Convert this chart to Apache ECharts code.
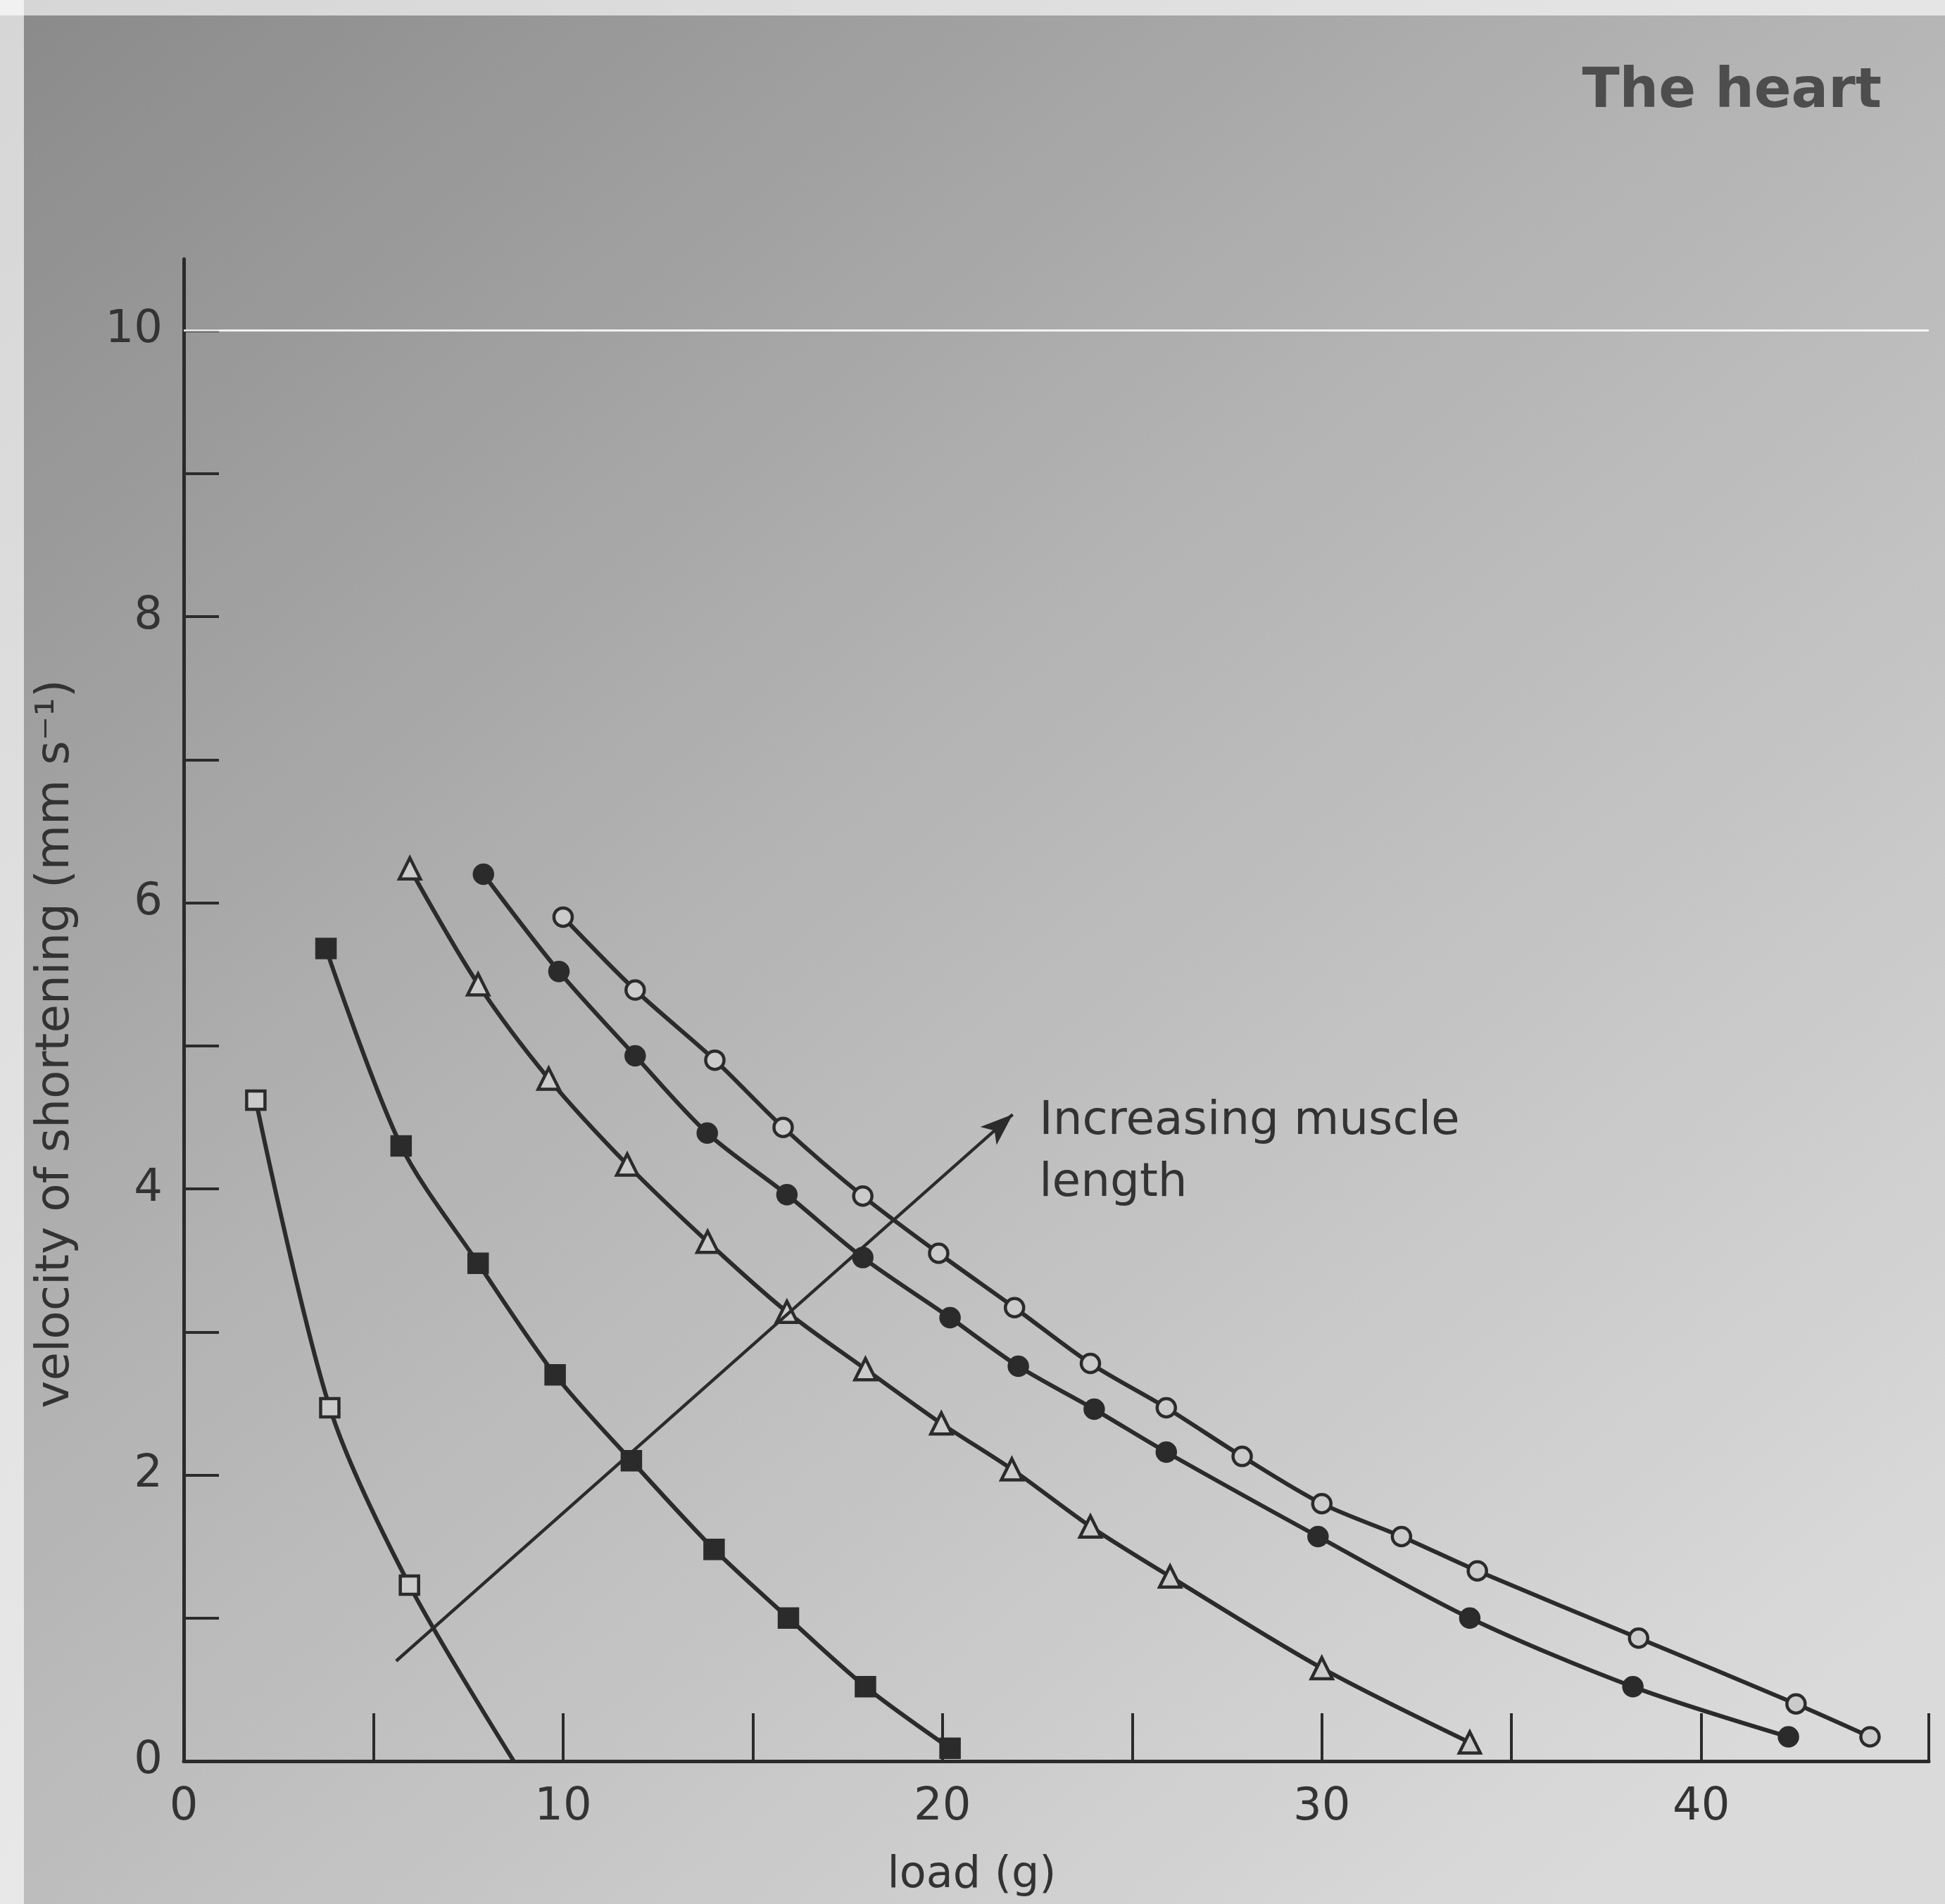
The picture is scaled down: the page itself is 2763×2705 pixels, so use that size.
<!DOCTYPE html>
<html>
<head>
<meta charset="utf-8">
<script src="https://cdn.jsdelivr.net/npm/echarts@6/dist/echarts.min.js"></script>
<style>
html,body{margin:0;padding:0;}
#chart{width:2763px;height:2705px;}
</style>
</head>
<body>
<div id="chart"></div>
<script>
// ---- data (load in g, velocity of shortening in mm/s) ----
const xLabelValues = [0, 10, 20, 30, 40];
const xTickValues = [5, 10, 15, 20, 25, 30, 35, 40, 46];
const yLabelValues = [0, 2, 4, 6, 8, 10];
const yTickValues = [1, 2, 3, 4, 5, 6, 7, 8, 9, 10];

const s1Load = [1.9, 3.85, 5.95, 8.7];
const s1Vel  = [4.62, 2.47, 1.23, 0.0];

const s2Load = [3.75, 5.73, 7.76, 9.79, 11.8, 13.98, 15.94, 17.97, 20.2];
const s2Vel  = [5.68, 4.30, 3.48, 2.70, 2.10, 1.48, 1.00, 0.52, 0.09];

const s3Load = [5.96, 7.76, 9.62, 11.69, 13.81, 15.9, 17.97, 19.97, 21.83, 23.9, 26.0, 30.0, 33.9];
const s3Vel  = [6.24, 5.43, 4.77, 4.17, 3.63, 3.14, 2.74, 2.36, 2.04, 1.64, 1.29, 0.65, 0.13];

const s4Load = [7.9, 9.89, 11.9, 13.8, 15.9, 17.9, 20.2, 22.0, 24.0, 25.9, 29.9, 33.9, 38.2, 42.3];
const s4Vel  = [6.20, 5.52, 4.93, 4.39, 3.96, 3.52, 3.10, 2.76, 2.46, 2.16, 1.57, 1.00, 0.52, 0.17];

const s5Load = [10.0, 11.9, 14.0, 15.8, 17.9, 19.9, 21.9, 23.9, 25.9, 27.9, 30.0, 32.1, 34.1, 38.35, 42.5, 44.45];
const s5Vel  = [5.90, 5.39, 4.90, 4.43, 3.95, 3.55, 3.17, 2.78, 2.47, 2.13, 1.80, 1.57, 1.33, 0.86, 0.40, 0.17];

const arrowFrom = [5.6, 0.7];
const arrowTo   = [21.85, 4.52];
const annotationText = 'Increasing muscle\nlength';
const annotationAt = [22.55, 4.25];

const ink = '#2b2b2b';
const hollow = '#cbcbcb';

function pairs(xs, ys, noMarkIdx) {
  return xs.map((x, i) => {
    const item = { value: [x, ys[i]] };
    if (noMarkIdx && noMarkIdx.indexOf(i) >= 0) item.symbol = 'none';
    return item;
  });
}

function curve(name, data, symbol, filled) {
  return {
    name: name,
    type: 'line',
    data: data,
    smooth: 0.3,
    symbol: symbol,
    symbolSize: symbol === 'triangle' ? 30 : 26,
    showAllSymbol: true,
    lineStyle: { color: ink, width: 6 },
    itemStyle: { color: filled ? ink : hollow, borderColor: ink, borderWidth: 4.5 },
    z: 3
  };
}

const chart = echarts.init(document.getElementById('chart'), null, { renderer: 'canvas' });

const edgeStrips = [
  { type: 'rect', left: 0, top: 0, shape: { width: 2763, height: 22 }, style: { fill: 'rgba(255,255,255,0.65)' }, z: -1 },
  { type: 'rect', left: 0, top: 0, shape: { width: 34, height: 2705 }, style: { fill: 'rgba(255,255,255,0.65)' }, z: -1 }
];

const option = {
  animation: false,
  backgroundColor: {
    type: 'linear', x: 0, y: 0, x2: 0.8, y2: 1,
    colorStops: [
      { offset: 0, color: '#8a8a8a' },
      { offset: 0.45, color: '#b2b2b2' },
      { offset: 1, color: '#dadada' }
    ]
  },
  title: {
    text: 'The heart',
    right: 85, top: 88,
    textStyle: { fontFamily: 'DejaVu Sans', fontSize: 78, fontWeight: 'bold', color: '#4d4d4d' }
  },
  grid: { left: 261, top: 368, right: 23, bottom: 203, containLabel: false },
  xAxis: {
    type: 'value', min: 0, max: 46, interval: 1,
    name: 'load (g)', nameLocation: 'middle', nameGap: 132,
    nameTextStyle: { fontFamily: 'DejaVu Sans', fontSize: 62, color: '#333', padding: [0, 240, 0, 0] },
    axisLine: { lineStyle: { color: ink, width: 5 } },
    axisTick: { inside: true, length: 68, customValues: xTickValues, lineStyle: { color: ink, width: 4 } },
    axisLabel: {
      margin: 34, fontFamily: 'DejaVu Sans', fontSize: 64, color: '#333',
      customValues: xLabelValues
    },
    splitLine: { show: false }
  },
  yAxis: {
    type: 'value', min: 0, max: 10.5, interval: 1,
    name: 'velocity of shortening (mm s\u207B\u00B9)', nameLocation: 'middle', nameGap: 148, nameRotate: 90,
    nameTextStyle: { fontFamily: 'DejaVu Sans', fontSize: 66, color: '#333', padding: [0, 96, 0, 0] },
    axisLine: { lineStyle: { color: ink, width: 5 } },
    axisTick: { inside: true, length: 50, customValues: yTickValues, lineStyle: { color: ink, width: 4 } },
    axisLabel: {
      margin: 30, fontFamily: 'DejaVu Sans', fontSize: 64, color: '#333',
      customValues: yLabelValues
    },
    splitLine: { show: false }
  },
  graphic: edgeStrips,
  series: [
    curve('s1', pairs(s1Load, s1Vel, [s1Load.length - 1]), 'rect', false),
    curve('s2', pairs(s2Load, s2Vel), 'rect', true),
    curve('s3', pairs(s3Load, s3Vel), 'triangle', false),
    curve('s4', pairs(s4Load, s4Vel), 'circle', true),
    curve('s5', pairs(s5Load, s5Vel), 'circle', false),
    {
      name: 'marks', type: 'line', data: [], z: 4,
      markLine: {
        silent: true, animation: false,
        label: { show: false },
        data: [
          [{ coord: arrowFrom, symbol: 'none' }, { coord: arrowTo, symbol: 'arrow', symbolSize: [26, 46] }],
          [{ coord: [0, 10], symbol: 'none', lineStyle: { color: 'rgba(255,255,255,0.85)', width: 3, type: 'solid' } },
           { coord: [46, 10], symbol: 'none' }]
        ],
        lineStyle: { color: ink, width: 4.5, type: 'solid' }
      }
    }
  ]
};

chart.setOption(option);

const p = chart.convertToPixel({ gridIndex: 0 }, annotationAt);
chart.setOption({
  graphic: edgeStrips.concat([
    {
      type: 'text', x: p[0], y: p[1], z: 10,
      style: {
        text: annotationText, fontFamily: 'DejaVu Sans', fontSize: 66, fill: '#333',
        lineHeight: 88, verticalAlign: 'middle', align: 'left'
      }
    }
  ])
});
</script>
</body>
</html>
